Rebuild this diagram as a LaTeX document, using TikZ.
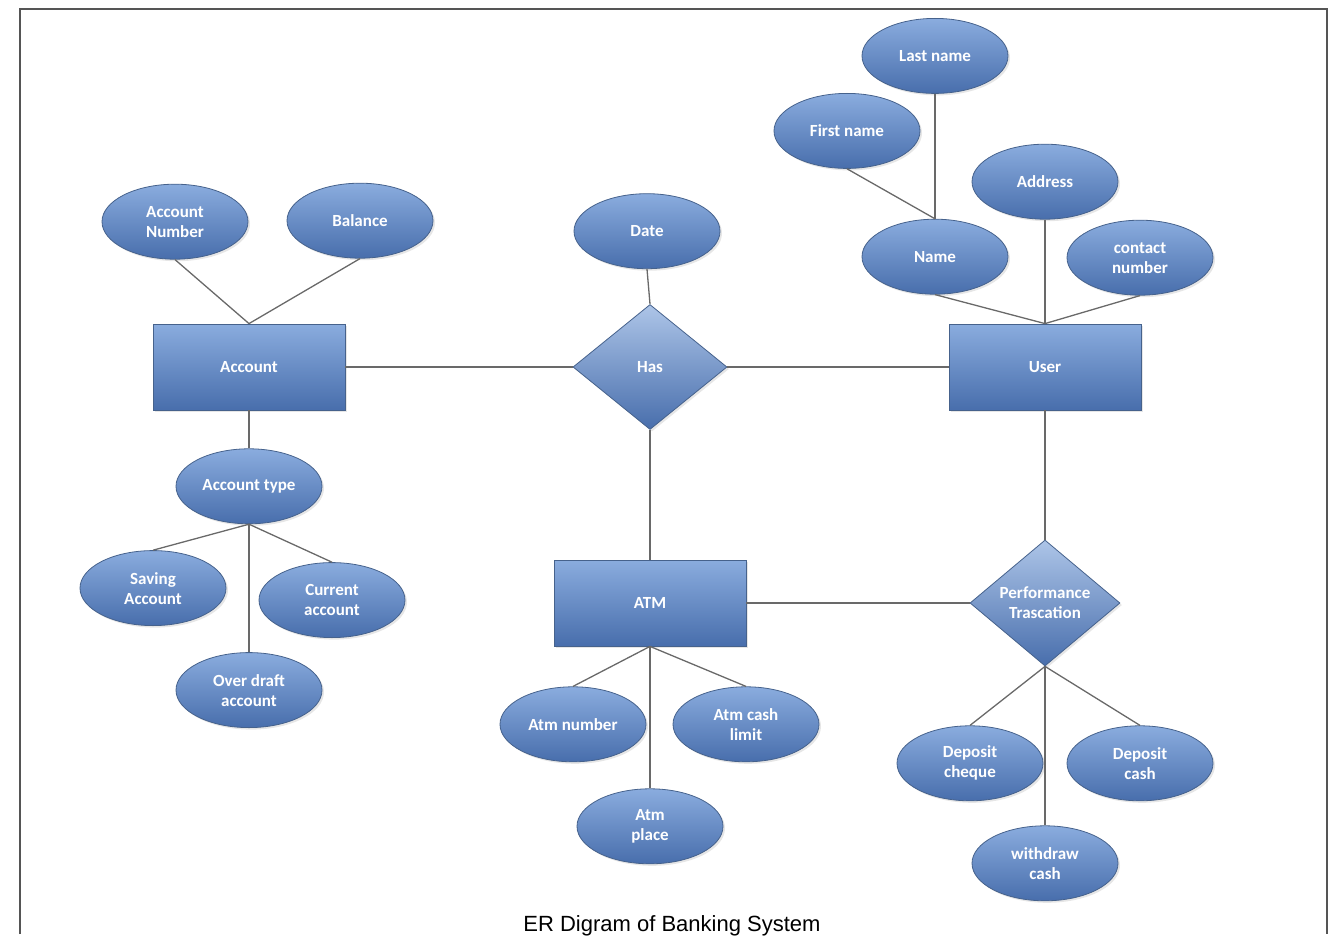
\documentclass[tikz,border=0pt]{standalone}
\usepackage{fontspec}
\setmainfont{Carlito}
\newfontfamily\captionfont{Liberation Sans}
\usepackage{xcolor}
\usepackage{tikz}
\usetikzlibrary{positioning,shapes.geometric,shadows}
\definecolor{ertop}{RGB}{138,172,222}
\definecolor{erbottom}{RGB}{72,110,172}
\definecolor{ertrim}{RGB}{70,98,140}
\definecolor{erlink}{RGB}{105,105,105}
\definecolor{erframe}{RGB}{85,85,85}
\tikzset{
  er base/.style={draw=ertrim,line width=0.8pt,top color=ertop,bottom color=erbottom,
                  text=white,font=\fontsize{17}{20}\selectfont\bfseries,align=center,
                  drop shadow={opacity=0.2,shadow xshift=2pt,shadow yshift=-2pt}},
  er entity/.style={er base,rectangle,minimum width=192pt,minimum height=86pt,inner sep=0pt},
  er attr/.style={er base,ellipse,minimum width=146pt,minimum height=75pt,inner ysep=-2pt,inner xsep=-6pt},
  er rel/.style={er base,diamond,top color=ertop!70!white,minimum width=154pt,minimum height=125pt,inner sep=0pt},
  er link/.style={draw=erlink,line width=1.3pt}
}

\begin{document}
\begin{tikzpicture}[x=1pt,y=-1pt]
  \useasboundingbox (0,0) rectangle (1338,936);
  \draw[erframe,line width=2.2pt] (20,934) -- (20,9) -- (1327,9) -- (1327,934);
  % entities and relationships
  \node[er entity] (acc) at (249,367) {Account};
  \node[er rel] (has) at (650,367) {Has};
  \node[er entity] (user) at (1045,367) {User};
  \node[er entity] (atm) at (650,603) {ATM};
  \node[er rel,minimum width=150pt,minimum height=126pt] (perf) at (1045,603) {Performance\\Trascation};
  % account attributes
  \node[er attr,above=64pt of acc,xshift=-74pt] (accnum) {Account\\Number};
  \node[er attr,above=65pt of acc,xshift=111pt] (balance) {Balance};
  \node[er attr,below=38pt of acc] (acctype) {Account type};
  \node[er attr,below=26pt of acctype,xshift=-96pt] (saving) {Saving\\Account};
  \node[er attr,below=38pt of acctype,xshift=83pt] (current) {Current\\account};
  \node[er attr,below=128pt of acctype] (overdraft) {Over draft\\account};
  % relationship attribute
  \node[er attr,above=35pt of has,xshift=-3pt] (date) {Date};
  % user attributes
  \node[er attr,above=29pt of user,xshift=-110pt] (name) {Name};
  \node[er attr,above=28pt of user,xshift=95pt] (contact) {contact\\number};
  \node[er attr,above=104pt of user] (address) {Address};
  \node[er attr,above=50pt of name,xshift=-88pt] (first) {First name};
  \node[er attr,above=125pt of name] (last) {Last name};
  % atm attributes
  \node[er attr,below=40pt of atm,xshift=-77pt] (atmnum) {Atm number};
  \node[er attr,below=40pt of atm,xshift=96pt] (atmlimit) {Atm cash\\limit};
  \node[er attr,below=142pt of atm] (atmplace) {Atm\\place};
  % transaction kinds
  \node[er attr,below=59pt of perf,xshift=-75pt] (cheque) {Deposit\\cheque};
  \node[er attr,below=59pt of perf,xshift=95pt] (cash) {Deposit\\cash};
  \node[er attr,below=159pt of perf] (withdraw) {withdraw\\cash};
  % links
  \draw[er link] (acc.east) -- (has.west);
  \draw[er link] (has.east) -- (user.west);
  \draw[er link] (date.south) -- (has.north);
  \draw[er link] (has.south) -- (atm.north);
  \draw[er link] (user.south) -- (perf.north);
  \draw[er link] (atm.east) -- (perf.west);
  \draw[er link] (accnum.south) -- (acc.north);
  \draw[er link] (balance.south) -- (acc.north);
  \draw[er link] (acc.south) -- (acctype.north);
  \draw[er link] (acctype.south) -- (saving.north);
  \draw[er link] (acctype.south) -- (current.north);
  \draw[er link] (acctype.south) -- (overdraft.north);
  \draw[er link] (name.south) -- (user.north);
  \draw[er link] (address.south) -- (user.north);
  \draw[er link] (contact.south) -- (user.north);
  \draw[er link] (first.south) -- (name.north);
  \draw[er link] (last.south) -- (name.north);
  \draw[er link] (atm.south) -- (atmnum.north);
  \draw[er link] (atm.south) -- (atmlimit.north);
  \draw[er link] (atm.south) -- (atmplace.north);
  \draw[er link] (perf.south) -- (cheque.north);
  \draw[er link] (perf.south) -- (cash.north);
  \draw[er link] (perf.south) -- (withdraw.north);
  \node[anchor=base,font=\captionfont\fontsize{22}{24}\selectfont] (title) at (672,931) {ER Digram of Banking System};
\end{tikzpicture}
\end{document}
